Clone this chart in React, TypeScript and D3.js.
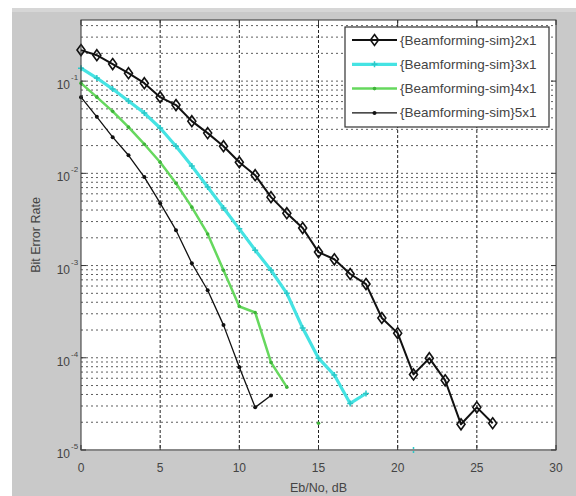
import React from 'react';
import * as d3 from 'd3';

// Eb/No in dB, one point per dB
const snrDb = [0, 1, 2, 3, 4, 5, 6, 7, 8, 9, 10, 11, 12, 13, 14, 15, 16, 17, 18, 19, 20, 21, 22, 23, 24, 25, 26];

// BER curves (null = no errors counted at that point)
const ber2x1 = [0.217, 0.191, 0.153, 0.122, 0.095, 0.067, 0.055, 0.0368, 0.0273, 0.0197, 0.0132, 0.00955, 0.00552, 0.0037, 0.00255, 0.0014, 0.00117, 0.00081, 0.00063, 0.00027, 0.000185, 6.6e-5, 9.9e-5, 5.7e-5, 1.9e-5, 2.9e-5, 1.95e-5];
const ber3x1 = [0.138, 0.108, 0.082, 0.061, 0.045, 0.031, 0.0197, 0.012, 0.0071, 0.0042, 0.0025, 0.00147, 0.00089, 0.0005, 0.00021, 9.9e-5, 6.5e-5, 3.2e-5, 4.1e-5, null, null, 1e-5];
const ber4x1 = [0.095, 0.067, 0.047, 0.0317, 0.0207, 0.0132, 0.0078, 0.0043, 0.0022, 0.00089, 0.00036, 0.00031, 8.9e-5, 4.8e-5, null, 1.95e-5];
const ber5x1 = [0.067, 0.041, 0.0247, 0.0157, 0.0091, 0.00475, 0.00242, 0.00106, 0.00054, 0.000226, 7.9e-5, 2.9e-5, 3.9e-5];

const legendLabels = ['{Beamforming-sim}2x1', '{Beamforming-sim}3x1', '{Beamforming-sim}4x1', '{Beamforming-sim}5x1'];
const xTicks = [0, 5, 10, 15, 20, 25, 30];
const yExps = [-1, -2, -3, -4, -5];

const W = 576;
const H = 496;
const left = 81;
const right = 556;
const top = 20;
const bottom = 450;

const x = d3.scaleLinear().domain([0, 30]).range([left, right]);
const y = d3.scaleLog().domain([1e-5, 0.46]).range([bottom, top]);

type Pt = [number, number | null];
const toPts = (vals: (number | null)[]): Pt[] => vals.map((v, i) => [snrDb[i], v]);

const line = d3
  .line<Pt>()
  .defined((d) => d[1] !== null)
  .x((d) => x(d[0]))
  .y((d) => y(d[1] as number));

const font = '"Liberation Sans", Arial, sans-serif';

const series = [
  { vals: ber2x1, color: '#111', width: 2, marker: 'diamond' },
  { vals: ber3x1, color: '#45e3e3', width: 3.2, marker: 'plus' },
  { vals: ber4x1, color: '#66d85e', width: 2.5, marker: 'star' },
  { vals: ber5x1, color: '#111', width: 1.3, marker: 'dot' },
];

function Marker({ kind, cx, cy, color }: { kind: string; cx: number; cy: number; color: string }) {
  if (kind === 'diamond') {
    return (
      <path
        d={`M${cx},${cy - 5.5}L${cx + 4},${cy}L${cx},${cy + 5.5}L${cx - 4},${cy}Z`}
        fill="none"
        stroke="#111"
        strokeWidth={1.6}
      />
    );
  }
  if (kind === 'plus') {
    return <path d={`M${cx - 3},${cy}H${cx + 3}M${cx},${cy - 3}V${cy + 3}`} stroke="#2cc8c8" strokeWidth={1.5} />;
  }
  if (kind === 'star') {
    return <circle cx={cx} cy={cy} r={1.8} fill="#3fb33a" />;
  }
  return <circle cx={cx} cy={cy} r={2} fill="#111" />;
}

export default function App() {
  const minorVals: number[] = [];
  for (let e = -5; e <= -1; e++) {
    for (let m = 1; m <= 9; m++) {
      const v = m * Math.pow(10, e);
      if (v >= 1e-5 && v <= 0.46) minorVals.push(v);
    }
  }

  return (
    <svg width={W} height={H} style={{ position: 'absolute', left: 0, top: 0 }} fontFamily={font}>
      <rect x={0} y={0} width={W} height={H} fill="#fff" />
      <rect x={12} y={8} width={W - 12} height={H - 8} fill="#c9c9c9" />
      <rect x={12} y={8} width={W - 12} height={4} fill="#d6d6d6" />
      <rect x={left} y={top} width={right - left} height={bottom - top} fill="#fff" />

      {/* horizontal log grid */}
      {minorVals.map((v, i) => (
        <line
          key={'h' + i}
          x1={left}
          x2={right}
          y1={y(v)}
          y2={y(v)}
          stroke="#5e5e5e"
          strokeWidth={1}
          strokeDasharray="2,3"
        />
      ))}
      {/* vertical grid */}
      {xTicks.slice(1, -1).map((t) => (
        <line key={'v' + t} x1={x(t)} x2={x(t)} y1={top} y2={bottom} stroke="#222" strokeWidth={1} strokeDasharray="3,2" />
      ))}

      {/* curves */}
      {series.map((s, si) => {
        const pts = toPts(s.vals);
        return (
          <g key={'s' + si}>
            <path d={line(pts) || ''} fill="none" stroke={s.color} strokeWidth={s.width} strokeLinejoin="round" />
            {pts
              .filter((p) => p[1] !== null)
              .map((p, i) => (
                <Marker key={i} kind={s.marker} cx={x(p[0])} cy={y(p[1] as number)} color={s.color} />
              ))}
          </g>
        );
      })}

      {/* axes box */}
      <rect x={left} y={top} width={right - left} height={bottom - top} fill="none" stroke="#333" strokeWidth={1} />
      <line x1={left} x2={right} y1={bottom} y2={bottom} stroke="#888" strokeWidth={2} />

      {/* x ticks */}
      {xTicks.map((t) => (
        <g key={'xt' + t}>
          <line x1={x(t)} x2={x(t)} y1={bottom} y2={bottom - 5} stroke="#333" />
          <line x1={x(t)} x2={x(t)} y1={top} y2={top + 5} stroke="#333" />
          <text x={x(t)} y={472} textAnchor="middle" fontSize={12} fill="#444">
            {t}
          </text>
        </g>
      ))}
      {/* y ticks */}
      {yExps.map((e) => {
        const yy = y(Math.pow(10, e));
        return (
          <g key={'yt' + e}>
            <line x1={left} x2={left + 5} y1={yy} y2={yy} stroke="#333" />
            <line x1={right} x2={right - 5} y1={yy} y2={yy} stroke="#333" />
            <text x={70} y={yy + 8} textAnchor="end" fontSize={12} fill="#444">
              10
            </text>
            <text x={71} y={yy - 1} textAnchor="start" fontSize={8} fill="#444">
              {e}
            </text>
          </g>
        );
      })}

      <text x={(left + right) / 2} y={492} textAnchor="middle" fontSize={12.5} fill="#444">
        Eb/No, dB
      </text>
      <text
        transform={`translate(40, ${(top + bottom) / 2}) rotate(-90)`}
        textAnchor="middle"
        fontSize={12.5}
        fill="#444"
      >
        Bit Error Rate
      </text>

      {/* legend */}
      <g>
        <rect x={345} y={27} width={204} height={100} fill="#fff" stroke="#333" strokeWidth={1.2} />
        {series.map((s, i) => {
          const ly = 40 + i * 24.3;
          return (
            <g key={'lg' + i}>
              <line x1={352} x2={397} y1={ly} y2={ly} stroke={s.color} strokeWidth={s.width} />
              <Marker kind={s.marker} cx={374.5} cy={ly} color={s.color} />
              <text x={400} y={ly + 4.5} fontSize={13.5} fill="#444">
                {legendLabels[i]}
              </text>
            </g>
          );
        })}
      </g>
    </svg>
  );
}
